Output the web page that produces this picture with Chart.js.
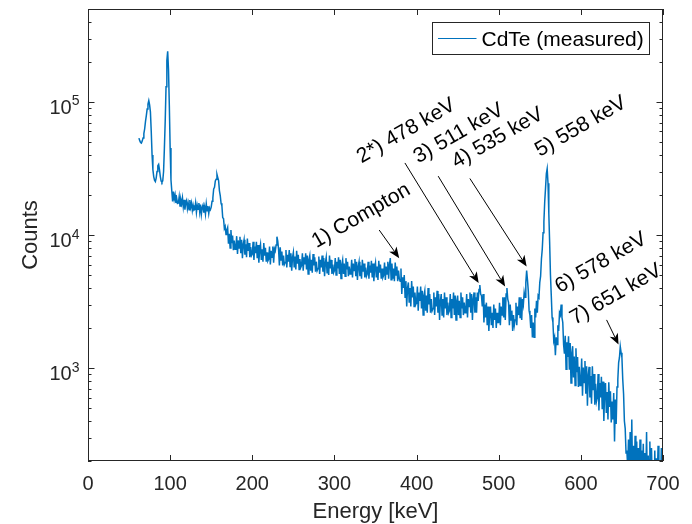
<!DOCTYPE html>
<html>
<head>
<meta charset="utf-8">
<script src="https://cdn.jsdelivr.net/npm/chart.js@4.4.1/dist/chart.umd.min.js"></script>
<style>
html,body{margin:0;padding:0;background:#fff;}
canvas{display:block;}
</style>
</head>
<body>
<canvas id="c" width="692" height="524"></canvas>
<script>
// ---- data: energy bins [keV] ----
const energyKeV = [
62,63,64,65,66,67,68,69,
70,71,72,73,74,75,76,77,78,79,
80,81,82,83,84,85,86,87,88,89,
90,91,92,93,94,95,96,97,98,99,
100,101,102,103,104,105,106,107,108,109,
110,111,112,113,114,115,116,117,118,119,
120,121,122,123,124,125,126,127,128,129,
130,131,132,133,134,135,136,137,138,139,
140,141,142,143,144,145,146,147,148,149,
150,151,152,153,154,155,156,157,158,159,
160,161,162,163,164,165,166,167,168,169,
170,171,172,173,174,175,176,177,178,179,
180,181,182,183,184,185,186,187,188,189,
190,191,192,193,194,195,196,197,198,199,
200,201,202,203,204,205,206,207,208,209,
210,211,212,213,214,215,216,217,218,219,
220,221,222,223,224,225,226,227,228,229,
230,231,232,233,234,235,236,237,238,239,
240,241,242,243,244,245,246,247,248,249,
250,251,252,253,254,255,256,257,258,259,
260,261,262,263,264,265,266,267,268,269,
270,271,272,273,274,275,276,277,278,279,
280,281,282,283,284,285,286,287,288,289,
290,291,292,293,294,295,296,297,298,299,
300,301,302,303,304,305,306,307,308,309,
310,311,312,313,314,315,316,317,318,319,
320,321,322,323,324,325,326,327,328,329,
330,331,332,333,334,335,336,337,338,339,
340,341,342,343,344,345,346,347,348,349,
350,351,352,353,354,355,356,357,358,359,
360,361,362,363,364,365,366,367,368,369,
370,371,372,373,374,375,376,377,378,379,
380,381,382,383,384,385,386,387,388,389,
390,391,392,393,394,395,396,397,398,399,
400,401,402,403,404,405,406,407,408,409,
410,411,412,413,414,415,416,417,418,419,
420,421,422,423,424,425,426,427,428,429,
430,431,432,433,434,435,436,437,438,439,
440,441,442,443,444,445,446,447,448,449,
450,451,452,453,454,455,456,457,458,459,
460,461,462,463,464,465,466,467,468,469,
470,471,472,473,474,475,476,477,478,479,
480,481,482,483,484,485,486,487,488,489,
490,491,492,493,494,495,496,497,498,499,
500,501,502,503,504,505,506,507,508,509,
510,511,512,513,514,515,516,517,518,519,
520,521,522,523,524,525,526,527,528,529,
530,531,532,533,534,535,536,537,538,539,
540,541,542,543,544,545,546,547,548,549,
550,551,552,553,554,555,556,557,558,559,
560,561,562,563,564,565,566,567,568,569,
570,571,572,573,574,575,576,577,578,579,
580,581,582,583,584,585,586,587,588,589,
590,591,592,593,594,595,596,597,598,599,
600,601,602,603,604,605,606,607,608,609,
610,611,612,613,614,615,616,617,618,619,
620,621,622,623,624,625,626,627,628,629,
630,631,632,633,634,635,636,637,638,639,
640,641,642,643,644,645,646,647,648,649,
650,651,652,653,654,655,656,657,658,659,
660,661,662,663,664,665,666,667,668,669,
670,671,672,673,674,675,676,677,678,679,
680,681,682,683,684,685,686,687,688,689,
690,691,692,693,694,695,696,697,698,699,
700
];

// ---- data: measured counts per bin (CdTe) ----
const cdteCounts = [
53500,51200,49600,49100,50800,53600,57800,62900,
71500,79000,88500,96500,102500,95000,84000,60000,40000,31000,
27500,25800,25200,26800,30000,33200,34000,31000,27600,25500,
24900,25600,30000,45000,72000,130000,205000,240000,175000,95000,
45000,26000,21500,17900,21200,18600,20000,17400,18800,17300,
17400,19400,16500,18400,17200,19000,16300,18400,15500,17500,
18200,15800,17300,15500,18300,16200,17400,15300,16700,15400,
15600,17400,14800,16700,15600,17400,14900,16900,14300,16100,
16800,14700,16200,14400,17100,15200,16500,14500,16000,15500,
16200,17900,19000,22200,22800,25500,26300,28600,27000,25600,
21500,19800,17300,16600,13500,13300,11200,11600,10100,10900,
11400,8600,10200,8000,10900,8700,9900,7700,9100,7800,
8000,9800,7200,9100,8000,9700,7300,9200,6700,8500,
9200,7100,8500,6800,9400,7600,8700,6800,8100,7000,
7200,8900,6500,8200,7300,8900,6700,8400,6200,7800,
8500,6500,7800,6300,8700,7000,8000,6300,7400,6400,
6600,8200,6000,7600,6800,8200,6200,7900,7600,8400,
9700,9000,7800,5900,8100,6500,7500,5900,7000,6000,
6200,7700,5700,7100,6300,7700,5800,7300,5400,6800,
7400,5700,6900,5500,7600,6100,7100,5500,6600,5700,
5900,7300,5400,6800,6000,7300,5500,7000,5100,6500,
7000,5400,6500,5200,7200,5900,6800,5300,6300,5400,
5600,6900,5100,6500,5700,7000,5300,6700,4900,6200,
6800,5200,6300,5000,7000,5600,6500,5100,6000,5200,
5400,6700,5000,6300,5600,6800,5100,6500,4700,6000,
6500,5100,6100,4900,6700,5500,6300,4900,5800,5100,
5200,6500,4800,6100,5400,6600,4900,6300,4600,5800,
6300,4900,5900,4700,6500,5300,6100,4800,5700,4900,
5100,6300,4700,5900,5200,6400,4800,6100,4500,5700,
6200,4800,5800,4600,6400,5200,6000,4700,5600,4800,
5000,6200,4600,5800,5100,6300,4700,6000,6700,4600,
6100,4700,5600,4500,6200,5000,5800,4500,5400,4700,
4500,5600,3600,4800,4000,5000,3400,4500,2900,4000,
4400,3100,4000,2900,4500,3400,4100,2900,3700,3000,
3100,4100,2700,3700,3200,4100,2800,3800,2500,3500,
3800,2700,3500,2600,4000,3000,3600,2600,3300,2700,
2800,3700,2500,3400,2900,3800,2600,3600,2300,3200,
3600,2500,3300,2400,3700,2800,3400,2500,3100,2600,
2700,3600,2400,3300,2800,3700,2500,3500,2300,3200,
3500,2500,3200,2400,3700,2800,3400,2500,3100,2600,
2700,3600,2400,3300,2900,3700,2600,3600,2300,3300,
3700,2600,3400,2600,3700,3200,3900,4200,3600,3500,
2900,3600,2200,3000,2400,3100,2100,2900,1900,2600,
2900,2100,2600,2000,3000,2300,2800,2000,2600,2200,
2200,3100,2100,2900,2500,3400,2400,3400,2300,3600,
4000,3300,3100,2100,3000,2300,2700,1900,2500,2100,
2300,3100,2100,2900,2500,3400,2400,3400,2300,3300,
3000,3700,3400,4400,5400,4600,3800,2700,2500,2000,
2500,1700,2200,1700,2800,2400,3200,2600,3500,3400,
4400,4900,6600,7800,10400,12600,17800,22500,28900,31500,
24500,14500,8800,5000,3500,2400,2200,1600,1700,1250,
1700,1500,2100,1900,2600,2500,3000,2400,2200,1500,
1280,1750,980,1560,1210,1730,970,1540,770,1290,
1460,850,1220,740,1410,930,1210,720,1020,740,
780,1180,620,1010,780,1130,640,1030,520,880,
1020,600,870,540,1030,680,900,530,760,560,
600,900,480,770,600,860,490,790,400,680,
770,460,660,410,780,510,670,390,560,410,
650,280,580,380,720,820,1100,1200,1450,1300,
1200,820,640,400,350,230,240,180,290,140,
330,120,410,140,260,110,310,150,280,120,
250,130,290,110,240,150,270,100,230,140,
330,120,220,140,280,110,250,130,200,100,
240,120,210,140,260,110,200,130,250,100,
150
];

// ---- axis tick labels ----
const xTickValues = [0,100,200,300,400,500,600,700];
const yTickValues = [1000,10000,100000];
const yTickExponents = ['3','4','5'];
const seriesName = 'CdTe (measured)';
const xTitle = 'Energy [keV]';
const yTitle = 'Counts';

// ---- peak annotations (text anchor and arrow in data coordinates) ----
const peakNotes = [
  {text:'1) Compton',  at:[278.3, 7940],  from:[354.5,10900], to:[378.9,6700]},
  {text:'2*) 478 keV', at:[333.1, 34500], from:[385.8,34800], to:[475.6,4350]},
  {text:'3) 511 keV',  at:[402.0, 34500], from:[426.3,27700], to:[507.8,4100]},
  {text:'4) 535 keV',  at:[448.7, 31600], from:[464.9,26600], to:[534.0,5800]},
  {text:'5) 558 keV',  at:[550.0, 38600]},
  {text:'6) 578 keV',  at:[574.4, 3650]},
  {text:'7) 651 keV',  at:[592.7, 2110],  from:[631.3,2300],  to:[645.9,1500]}
];

const FONT = "'Liberation Sans', Arial, Helvetica, sans-serif";
const AX = '#262626';
const BLUE = '#0072BD';

function drawArrow(ctx, x0, y0, x1, y1) {
  const L = 11, W = 4.5, N = 3;
  const a = Math.atan2(y1 - y0, x1 - x0);
  const c = Math.cos(a), s = Math.sin(a);
  ctx.strokeStyle = '#000'; ctx.lineWidth = 1;
  ctx.beginPath(); ctx.moveTo(x0, y0); ctx.lineTo(x1 - c*(L-N), y1 - s*(L-N)); ctx.stroke();
  ctx.fillStyle = '#000';
  ctx.beginPath();
  ctx.moveTo(x1, y1);
  ctx.lineTo(x1 - c*L - s*W, y1 - s*L + c*W);
  ctx.lineTo(x1 - c*(L-N), y1 - s*(L-N));
  ctx.lineTo(x1 - c*L + s*W, y1 - s*L - c*W);
  ctx.closePath(); ctx.fill();
}

const decor = {
  id: 'matlabDecor',
  afterDatasetsDraw(chart) {
    const ctx = chart.ctx, ca = chart.chartArea;
    const xs = chart.scales.x, ys = chart.scales.y;
    ctx.save();
    // annotations
    ctx.fillStyle = '#000';
    ctx.font = '21px ' + FONT;
    ctx.textAlign = 'left'; ctx.textBaseline = 'alphabetic';
    peakNotes.forEach(n => {
      if (n.from) {
        drawArrow(ctx, xs.getPixelForValue(n.from[0]), ys.getPixelForValue(n.from[1]),
                       xs.getPixelForValue(n.to[0]), ys.getPixelForValue(n.to[1]));
      }
      ctx.save();
      ctx.translate(xs.getPixelForValue(n.at[0]), ys.getPixelForValue(n.at[1]));
      ctx.rotate(-Math.PI/6);
      ctx.fillStyle = '#000';
      ctx.fillText(n.text, 0, 0);
      ctx.restore();
    });
    // box
    ctx.strokeStyle = AX; ctx.lineWidth = 1;
    ctx.strokeRect(Math.round(ca.left)+0.5, Math.round(ca.top)+0.5,
                   Math.round(ca.right-ca.left)-1, Math.round(ca.bottom-ca.top)-1);
    // x ticks
    ctx.beginPath();
    xTickValues.forEach(v => {
      const px = Math.round(xs.getPixelForValue(v)) + 0.5;
      ctx.moveTo(px, ca.bottom); ctx.lineTo(px, ca.bottom - 6);
      ctx.moveTo(px, ca.top); ctx.lineTo(px, ca.top + 6);
    });
    // y ticks (major + minor)
    for (let e = 2; e <= 5; e++) {
      for (let m = 1; m <= 9; m++) {
        const v = m * Math.pow(10, e);
        if (v < ys.min || v > ys.max) continue;
        const py = Math.round(ys.getPixelForValue(v)) + 0.5;
        const len = (m === 1) ? 6.5 : 3.5;
        ctx.moveTo(ca.left, py); ctx.lineTo(ca.left + len, py);
        ctx.moveTo(ca.right, py); ctx.lineTo(ca.right - len, py);
      }
    }
    ctx.stroke();
    // x tick labels
    ctx.fillStyle = AX;
    ctx.font = '20px ' + FONT;
    ctx.textAlign = 'center'; ctx.textBaseline = 'alphabetic';
    xTickValues.forEach(v => ctx.fillText(String(v), xs.getPixelForValue(v), ca.bottom + 29));
    // y tick labels 10^n
    yTickValues.forEach((v, i) => {
      const py = ys.getPixelForValue(v);
      const right = ca.left - 8.5;
      ctx.textAlign = 'right';
      ctx.font = '14px ' + FONT;
      const ew = ctx.measureText(yTickExponents[i]).width;
      ctx.fillText(yTickExponents[i], right, py + 3.5);
      ctx.font = '20px ' + FONT;
      ctx.fillText('10', right - ew, py + 12);
    });
    // axis titles
    ctx.font = '22px ' + FONT;
    ctx.textAlign = 'center';
    ctx.fillText(xTitle, (ca.left + ca.right)/2, ca.bottom + 57);
    ctx.save();
    ctx.translate(37, (ca.top + ca.bottom)/2);
    ctx.rotate(-Math.PI/2);
    ctx.fillText(yTitle, 0, 0);
    ctx.restore();
    // legend
    const lx = ca.right - 230.5, ly = ca.top + 13.5, lw = 217, lh = 32;
    ctx.fillStyle = '#fff';
    ctx.fillRect(lx, ly, lw, lh);
    ctx.strokeStyle = AX; ctx.lineWidth = 1;
    ctx.strokeRect(lx, ly, lw, lh);
    ctx.strokeStyle = BLUE; ctx.lineWidth = 1;
    ctx.beginPath(); ctx.moveTo(lx + 5.5, ly + 16); ctx.lineTo(lx + 44, ly + 16); ctx.stroke();
    ctx.fillStyle = '#000';
    ctx.font = '21px ' + FONT;
    ctx.textAlign = 'left';
    ctx.fillText(seriesName, lx + 49, ly + 23.5);
    ctx.restore();
  }
};

new Chart(document.getElementById('c'), {
  type: 'line',
  data: {
    datasets: [{
      label: seriesName,
      data: energyKeV.map((e, i) => ({x: e, y: cdteCounts[i]})),
      borderColor: BLUE,
      borderWidth: 1.5,
      pointRadius: 0,
      tension: 0,
      fill: false
    }]
  },
  options: {
    responsive: false,
    devicePixelRatio: 1,
    animation: false,
    layout: {padding: {left: 88, right: 29, top: 9, bottom: 63}},
    plugins: {legend: {display: false}, tooltip: {enabled: false}},
    scales: {
      x: {type: 'linear', min: 0, max: 700, display: false},
      y: {type: 'logarithmic', min: 200, max: 500000, display: false}
    }
  },
  plugins: [decor]
});
</script>
</body>
</html>
